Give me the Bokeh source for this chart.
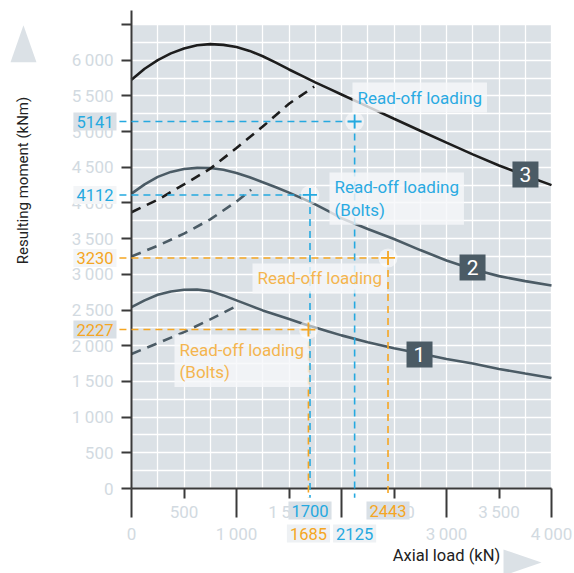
import math
from bokeh.plotting import figure
from bokeh.models import Range1d, FixedTicker, Label, Arrow, PolyAnnotation, BoxAnnotation
from bokeh.core.properties import value
from bokeh.embed import file_html
from bokeh.resources import INLINE

# ---------------- data ----------------
load_kN = [0, 125, 250, 375, 500, 625, 750, 875, 1000, 1125, 1250, 1375, 1500, 1625, 1750, 1875, 2000,
           2250, 2500, 2750, 3000, 3250, 3500, 3750, 4000]
moment_3 = [5725, 5880, 6000, 6095, 6165, 6210, 6225, 6215, 6185, 6130, 6055, 5965, 5870, 5780, 5690, 5605, 5520,
            5350, 5180, 5012, 4845, 4680, 4525, 4385, 4250]
moment_2 = [4130, 4260, 4365, 4435, 4475, 4492, 4490, 4465, 4420, 4360, 4290, 4220, 4145, 4065, 3980, 3885, 3785,
            3635, 3495, 3340, 3195, 3070, 2975, 2905, 2845]
moment_1 = [2540, 2635, 2715, 2760, 2785, 2788, 2765, 2705, 2635, 2565, 2495, 2435, 2375, 2310, 2255, 2200, 2145,
            2050, 1965, 1890, 1815, 1750, 1675, 1610, 1547]

bolts_load_3 = [0, 250, 500, 750, 1000, 1250, 1500, 1740]
bolts_moment_3 = [3870, 4045, 4260, 4480, 4770, 5070, 5390, 5630]
bolts_load_2 = [0, 250, 500, 750, 1000, 1140]
bolts_moment_2 = [3250, 3400, 3570, 3770, 4020, 4185]
bolts_load_1 = [0, 250, 500, 750, 1000]
bolts_moment_1 = [1885, 2035, 2190, 2370, 2555]

curve_ids = ["1", "2", "3"]
curve_id_load = [2743, 3248, 3752]
curve_id_moment = [1877, 3096, 4399]

readoff_load = [2125, 1700, 2443, 1685]
readoff_moment = [5141, 4112, 3230, 2227]
readoff_kind = ["blue", "blue", "orange", "orange"]
readoff_text = ["Read-off loading", "Read-off loading\n(Bolts)", "Read-off loading", "Read-off loading\n(Bolts)"]

y_ticks = [0, 500, 1000, 1500, 2000, 2500, 3000, 3500, 4000, 4500, 5000, 5500, 6000]
y_tick_labels = ["0", "500", "1\u2009000", "1\u2009500", "2\u2009000", "2\u2009500", "3\u2009000",
                 "3\u2009500", "4\u2009000", "4\u2009500", "5\u2009000", "5\u2009500", "6\u2009000"]
y_tick_top = 6500
x_ticks_upper = [500, 1500, 2500, 3500]
x_labels_upper = ["500", "1\u2009500", "2\u2009500", "3\u2009500"]
x_ticks_lower = [0, 1000, 2000, 3000, 4000]
x_labels_lower = ["0", "1\u2009000", "2\u2009000", "3\u2009000", "4\u2009000"]

# ---------------- style ----------------
FONT = "Roboto"
PLOT_BG = "#dbe1e6"
AXIS = "#3a3a3a"
TICK_TXT = "#d2dae1"
SLATE = "#4b5b65"
DARK = "#1d1d1d"
BLUE = "#25a9e0"
ORANGE = "#f5a623"
BLUE_TXT = "#2aaae2"
ORANGE_TXT = "#f4b54f"
colors = {"blue": BLUE, "orange": ORANGE}
txt_colors = {"blue": BLUE_TXT, "orange": ORANGE_TXT}

# pixel scale of the reference: 0.105 px per kN, 0.071385 px per kNm; origin at (131, 488)
XS, YS = 0.105, 0.071385
W, H = 574, 573
x0 = -131 / XS
y0 = -(H - 488) / YS
p = figure(x_range=Range1d(x0, x0 + W / XS), y_range=Range1d(y0, y0 + H / YS),
           width=W, height=H, min_border=0,
           output_backend="svg", toolbar_location=None,
           background_fill_color="white", border_fill_color="white", outline_line_color=None)

# plot area background
p.add_layout(BoxAnnotation(left=0, right=4000, bottom=0, top=6500, fill_color=PLOT_BG, fill_alpha=1.0,
                           line_alpha=0, level="image"))

# grid
p.xgrid.ticker = FixedTicker(ticks=list(range(0, 4001, 250)))
p.ygrid.ticker = FixedTicker(ticks=list(range(0, 6501, 250)))
for g in (p.xgrid, p.ygrid):
    g.grid_line_color = "white"
    g.grid_line_width = 1.3

# y axis (top tick without label drawn as a minor tick)
yax = p.yaxis[0]
yax.fixed_location = 0
yax.bounds = (0, 6700)
yax.ticker = FixedTicker(ticks=y_ticks, minor_ticks=[y_tick_top])
yax.major_label_overrides = {t: s for t, s in zip(y_ticks, y_tick_labels)}
yax.major_tick_out = 10
yax.major_tick_in = 0
yax.minor_tick_out = 10
yax.minor_tick_in = 0
yax.axis_line_color = AXIS
yax.axis_line_width = 2
yax.major_tick_line_color = AXIS
yax.major_tick_line_width = 2
yax.minor_tick_line_color = AXIS
yax.minor_tick_line_width = 2
yax.major_label_text_color = TICK_TXT
yax.major_label_text_font = FONT
yax.major_label_text_font_size = "17px"
yax.major_label_standoff = 8

# x axis: short labelled ticks (upper row) + long ticks (lower row labels below)
xax = p.xaxis[0]
xax.fixed_location = 0
xax.bounds = (0, 4000)
xax.ticker = FixedTicker(ticks=x_ticks_upper, minor_ticks=x_ticks_lower)
xax.major_label_overrides = {t: s for t, s in zip(x_ticks_upper, x_labels_upper)}
xax.major_tick_out = 10
xax.major_tick_in = 0
xax.minor_tick_out = 29
xax.minor_tick_in = 0
xax.axis_line_color = AXIS
xax.axis_line_width = 2
xax.major_tick_line_color = AXIS
xax.major_tick_line_width = 2
xax.minor_tick_line_color = AXIS
xax.minor_tick_line_width = 2
xax.major_label_text_color = TICK_TXT
xax.major_label_text_font = FONT
xax.major_label_text_font_size = "17px"
xax.major_label_standoff = -16

for t, s in zip(x_ticks_lower, x_labels_lower):
    p.add_layout(Label(x=t, y=0, y_offset=-45, text=s, text_align="center", text_baseline="middle",
                       text_color=TICK_TXT, text_font=FONT, text_font_size="17px"))

# curves
p.line(load_kN, moment_1, line_color=SLATE, line_width=2.6)
p.line(load_kN, moment_2, line_color=SLATE, line_width=2.6)
p.line(load_kN, moment_3, line_color=DARK, line_width=2.6)
p.line(bolts_load_1, bolts_moment_1, line_color=SLATE, line_width=2.6, line_dash="10 7")
p.line(bolts_load_2, bolts_moment_2, line_color=SLATE, line_width=2.6, line_dash="10 7")
p.line(bolts_load_3, bolts_moment_3, line_color=DARK, line_width=2.6, line_dash="10 7")

# curve id boxes
p.scatter(curve_id_load, curve_id_moment, marker="square", size=26, fill_color=SLATE, line_color=None)
p.text(curve_id_load, curve_id_moment, text=curve_ids, text_color="white", text_align="center",
       text_baseline="middle", text_font=value(FONT), text_font_size="21px")

# read-off lines
for lx, ly, k in zip(readoff_load, readoff_moment, readoff_kind):
    c = colors[k]
    p.add_layout(Arrow(end=None, x_start=-115, y_start=ly, x_end=lx, y_end=ly,
                       line_color=c, line_width=1.6, line_dash="7 5"))
    p.add_layout(Arrow(end=None, x_start=lx, y_start=ly, x_end=lx, y_end=-130,
                       line_color=c, line_width=1.6, line_dash="7 5"))

# markers
mk = p.scatter(readoff_load, readoff_moment, marker="circle", size=19, fill_color="white",
               fill_alpha=0.55, line_color=None)
mk.level = "overlay"
for lx, ly, k in zip(readoff_load, readoff_moment, readoff_kind):
    r = p.scatter([lx], [ly], marker="cross", size=14, line_color=colors[k], line_width=1.8)
    r.level = "overlay"

# value labels on axes
left_bg = ["#d9e0e6", "#f3f5f7", "#f3f5f7", "#d9e0e6"]
for ly, k, bg in zip(readoff_moment, readoff_kind, left_bg):
    p.add_layout(Label(x=0, y=ly, x_offset=-15, text=str(ly), text_align="right", text_baseline="middle",
                       text_color=colors[k], text_font=FONT, text_font_size="16.5px",
                       background_fill_color=bg, background_fill_alpha=1.0, padding=3))
bottom_row = [2, 1, 1, 2]
bottom_bg = ["#eef1f4", "#d9e0e6", "#d9e0e6", "#eef1f4"]
for lx, k, row, bg in zip(readoff_load, readoff_kind, bottom_row, bottom_bg):
    p.add_layout(Label(x=lx, y=0, y_offset=(-22 if row == 1 else -45), text=str(lx),
                       text_align="center", text_baseline="middle",
                       text_color=colors[k], text_font=FONT, text_font_size="16.5px",
                       background_fill_color=bg, background_fill_alpha=1.0, padding=3))

# read-off text boxes
text_pos_load = [2152, 1933, 1200, 457]
text_pos_moment = [5477, 4343, 2942, 2073]
text_baseline = ["middle", "top", "middle", "top"]
for tx, ty, s, k, bl in zip(text_pos_load, text_pos_moment, readoff_text, readoff_kind, text_baseline):
    p.add_layout(Label(x=tx, y=ty, x_offset=-5, y_offset=(6 if bl == "top" else 0), text=s,
                       text_align="left", text_baseline=bl,
                       text_color=txt_colors[k], text_font=FONT, text_font_size="17px",
                       text_line_height=1.12,
                       background_fill_color="#f6f8fa", background_fill_alpha=0.8, padding=5))

# axis titles
p.add_layout(Label(x=0, y=4315, x_offset=-109, angle=math.pi / 2, text="Resulting moment (kNm)",
                   text_align="center", text_baseline="middle", text_color="#222222",
                   text_font=FONT, text_font_size="15px"))
p.add_layout(Label(x=3000, y=0, y_offset=-67, text="Axial load (kN)",
                   text_align="center", text_baseline="middle", text_color="#222222",
                   text_font=FONT, text_font_size="16.5px"))

# arrow triangles
p.add_layout(PolyAnnotation(xs=[-1152, -905, -1029], ys=[5972, 5972, 6491],
                            fill_color=PLOT_BG, fill_alpha=1.0, line_alpha=0))
p.add_layout(PolyAnnotation(xs=[3543, 3543, 3905], ys=[-855, -1220, -1037],
                            fill_color=PLOT_BG, fill_alpha=1.0, line_alpha=0))

open("out.html", "w").write(file_html(p, INLINE))
